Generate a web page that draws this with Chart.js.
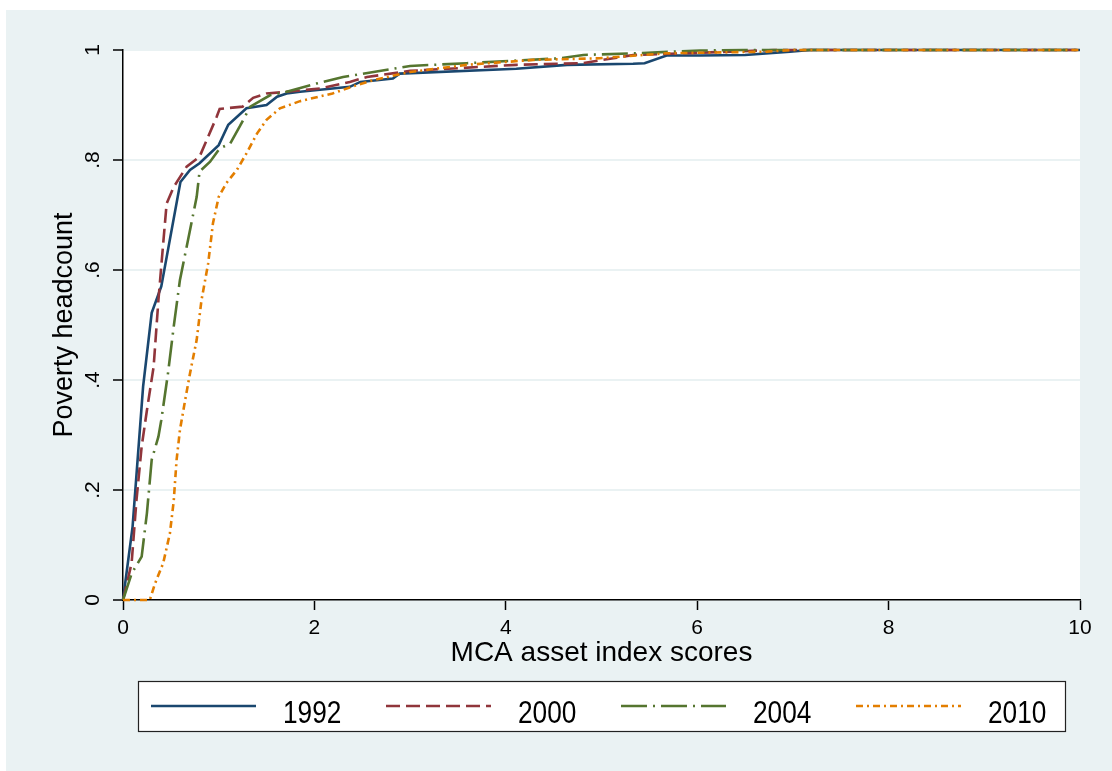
<!DOCTYPE html>
<html>
<head>
<meta charset="utf-8">
<script src="https://cdn.jsdelivr.net/npm/chart.js@4.4.1/dist/chart.umd.min.js"></script>
<style>
  html, body { margin: 0; padding: 0; background: #fff; }
  #wrap { width: 1112px; height: 771px; }
</style>
</head>
<body>
<div id="wrap"><canvas id="myChart"></canvas></div>
<script>
// ---- data ----
var years = ['1992', '2000', '2004', '2010'];

var x1992 = [0, 0.10, 0.21, 0.30, 0.40, 0.60, 0.70, 0.80, 1.00, 1.10, 1.29, 1.50, 1.61, 1.71, 1.85, 2.37, 2.48, 2.82, 2.89, 4.11, 4.64, 5.33, 5.45, 5.68, 6.03, 6.50, 6.97, 7.18, 10];
var y1992 = [0, 0.133, 0.388, 0.522, 0.570, 0.760, 0.782, 0.794, 0.827, 0.864, 0.894, 0.900, 0.915, 0.921, 0.924, 0.933, 0.942, 0.948, 0.957, 0.966, 0.973, 0.975, 0.976, 0.990, 0.990, 0.991, 0.997, 1.0, 1.0];

var x2000 = [0, 0.09, 0.14, 0.195, 0.25, 0.32, 0.37, 0.42, 0.456, 0.53, 0.665, 0.80, 0.98, 1.01, 1.25, 1.36, 1.50, 1.71, 2.06, 2.37, 2.55, 3.00, 4.11, 4.80, 5.16, 5.33, 6.37, 6.80, 10];
var y2000 = [0, 0.067, 0.180, 0.279, 0.345, 0.424, 0.545, 0.648, 0.721, 0.751, 0.788, 0.806, 0.879, 0.893, 0.897, 0.913, 0.921, 0.924, 0.930, 0.942, 0.951, 0.962, 0.973, 0.976, 0.986, 0.991, 0.997, 1.0, 1.0];

var x2004 = [0, 0.09, 0.195, 0.25, 0.30, 0.37, 0.40, 0.47, 0.53, 0.595, 0.68, 0.77, 0.80, 0.91, 1.01, 1.12, 1.22, 1.33, 1.54, 1.71, 2.02, 2.30, 3.00, 3.59, 4.57, 4.81, 5.33, 6.03, 6.50, 10];
var y2004 = [0, 0.048, 0.079, 0.158, 0.255, 0.297, 0.327, 0.412, 0.497, 0.582, 0.655, 0.733, 0.779, 0.797, 0.821, 0.830, 0.861, 0.897, 0.918, 0.924, 0.939, 0.951, 0.971, 0.976, 0.985, 0.991, 0.994, 0.999, 1.0, 1.0];

var x2010 = [0, 0.28, 0.335, 0.42, 0.49, 0.53, 0.56, 0.595, 0.65, 0.70, 0.77, 0.82, 0.89, 0.94, 1.00, 1.08, 1.19, 1.29, 1.40, 1.50, 1.64, 1.85, 2.19, 2.44, 2.61, 3.00, 3.59, 4.29, 4.98, 5.68, 6.73, 7.00, 10];
var y2010 = [0, 0, 0.030, 0.067, 0.121, 0.180, 0.255, 0.309, 0.364, 0.412, 0.473, 0.545, 0.612, 0.685, 0.733, 0.758, 0.782, 0.812, 0.848, 0.873, 0.894, 0.907, 0.921, 0.936, 0.945, 0.960, 0.973, 0.982, 0.985, 0.994, 0.997, 1.0, 1.0];

var xTickLabels = ['0', '2', '4', '6', '8', '10'];
var yTickLabels = ['0', '.2', '.4', '.6', '.8', '1'];

// ====================================================

var bgColor = '#eaf2f3';

function toPoints(xs, ys) {
  return xs.map((x, i) => ({ x: x, y: ys[i] }));
}

var lineSets = [
  { label: years[0], data: toPoints(x1992, y1992), color: '#1a476f', dash: [], order: 4 },
  { label: years[1], data: toPoints(x2000, y2000), color: '#90353b', dash: [14, 6], order: 3 },
  { label: years[2], data: toPoints(x2004, y2004), color: '#55752f', dash: [26, 6, 2, 6], order: 2 },
  { label: years[3], data: toPoints(x2010, y2010), color: '#e37e00', dash: [7, 4, 2, 4], order: 1 }
];

// background: white margin, blue-grey frame, white plot region
var bgPlugin = {
  id: 'bg',
  beforeDraw(chart) {
    var c = chart.ctx, a = chart.chartArea;
    c.save();
    c.fillStyle = '#fff';
    c.fillRect(0, 0, chart.width, chart.height);
    c.fillStyle = bgColor;
    c.fillRect(6, 10, chart.width - 6, chart.height - 10);
    c.fillStyle = '#fff';
    c.fillRect(a.left, a.top, a.right - a.left, a.bottom - a.top);
    c.restore();
  }
};

// stata style legend box under the plot
var legendPlugin = {
  id: 'boxLegend',
  afterDraw(chart) {
    var c = chart.ctx;
    var bx = 138, by = 681, bw = 927, bh = 50;
    c.save();
    c.fillStyle = '#fff';
    c.fillRect(bx, by, bw, bh);
    c.strokeStyle = '#222';
    c.lineWidth = 1.2;
    c.strokeRect(bx + 0.5, by + 0.5, bw, bh);
    chart.data.datasets.forEach((ds, i) => {
      var x0 = bx + 13 + i * 235;
      c.beginPath();
      c.setLineDash(ds.borderDash || []);
      c.strokeStyle = ds.borderColor;
      c.lineWidth = ds.borderWidth;
      c.moveTo(x0, 706);
      c.lineTo(x0 + 105, 706);
      c.stroke();
      c.setLineDash([]);
      c.save();
      c.translate(x0 + 132, 723);
      c.scale(0.82, 1);
      c.fillStyle = '#000';
      c.font = '32px "Liberation Sans", Arial, sans-serif';
      c.textAlign = 'left';
      c.textBaseline = 'alphabetic';
      c.fillText(ds.label, 0, 0);
      c.restore();
    });
    c.restore();
  }
};

var ctx = document.getElementById('myChart').getContext('2d');

new Chart(ctx, {
  type: 'line',
  data: {
    datasets: lineSets.map(s => ({
      label: s.label,
      data: s.data,
      borderColor: s.color,
      backgroundColor: s.color,
      borderDash: s.dash,
      borderWidth: 2.6,
      pointRadius: 0,
      tension: 0,
      fill: false,
      clip: false,
      order: s.order
    }))
  },
  options: {
    responsive: true,
    maintainAspectRatio: false,
    animation: false,
    layout: { padding: { left: 0, top: 50, right: 32, bottom: 0 } },
    plugins: {
      legend: { display: false },
      tooltip: { enabled: false }
    },
    scales: {
      x: {
        type: 'linear',
        min: 0,
        max: 10,
        afterFit(scale) { scale.height = 171; },
        afterBuildTicks(scale) {
          scale.ticks = xTickLabels.map(t => ({ value: Number(t) }));
        },
        ticks: {
          color: '#000',
          font: { family: '"Liberation Sans", Arial, sans-serif', size: 21 },
          padding: 6,
          maxRotation: 0,
          callback: (v, i) => xTickLabels[i]
        },
        grid: { drawOnChartArea: false, tickLength: 10, tickColor: '#000', tickWidth: 1.5 },
        border: { color: '#000', width: 1.5 },
        title: {
          display: true,
          text: 'MCA asset index scores',
          color: '#000',
          font: { family: '"Liberation Sans", Arial, sans-serif', size: 28, lineHeight: 1 },
          padding: { top: 0, bottom: 104 }
        }
      },
      y: {
        min: 0,
        max: 1,
        afterFit(scale) { scale.width = 123; },
        afterBuildTicks(scale) {
          scale.ticks = yTickLabels.map(t => ({ value: Number(t) }));
        },
        ticks: {
          color: '#000',
          font: { family: '"Liberation Sans", Arial, sans-serif', size: 21 },
          padding: 11,
          minRotation: 90,
          maxRotation: 90,
          crossAlign: 'center',
          callback: (v, i) => yTickLabels[i]
        },
        grid: { color: bgColor, lineWidth: 2, tickLength: 10, tickColor: '#000', tickWidth: 1.5 },
        border: { color: '#000', width: 1.5 },
        title: {
          display: true,
          text: 'Poverty headcount',
          color: '#000',
          font: { family: '"Liberation Sans", Arial, sans-serif', size: 27, lineHeight: 1 },
          padding: { top: 51, bottom: 0 }
        }
      }
    }
  },
  plugins: [bgPlugin, legendPlugin]
});
</script>
</body>
</html>
